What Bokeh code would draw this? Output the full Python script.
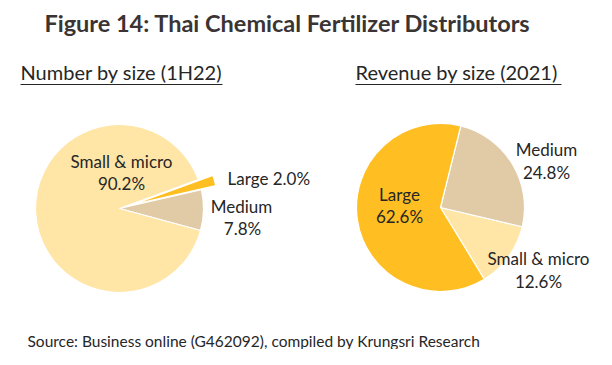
import math
from bokeh.plotting import figure
from bokeh.models import Range1d, ColumnDataSource
from bokeh.core.properties import value
from bokeh.embed import file_html
from bokeh.resources import INLINE

# ---- data ----
title_text = "Figure 14: Thai Chemical  Fertilizer Distributors"
left_title = "Number by size (1H22)"
right_title = "Revenue by size (2021)"
source_text = "Source: Business online (G462092), compiled by Krungsri  Research"

left_cats = ["Medium", "Large", "Small & micro"]
left_vals = [7.8, 2.0, 90.2]
right_cats = ["Small & micro", "Medium", "Large"]
right_vals = [12.6, 24.8, 62.6]

colors = {"Small & micro": "#FFE5A6", "Medium": "#E1CAA6", "Large": "#FFBF22"}
FONT = "Lato"
TXT = "#262626"

W, H = 596, 349
p = figure(width=W, height=H, output_backend="svg", toolbar_location=None,
           x_range=Range1d(0, W), y_range=Range1d(365 - H, 365),
           min_border=0)
p.axis.visible = False
p.grid.visible = False
p.outline_line_color = None
p.background_fill_color = "white"

Y = lambda py: 365 - py  # page pixel y -> data y


def pie(cx, cy, r, cats, vals, start_deg, explode=None):
    total = sum(vals)
    a = math.radians(start_deg)
    xs, ys, sa, ea, cs = [], [], [], [], []
    for c, v in zip(cats, vals):
        b = a + 2 * math.pi * v / total
        ox, oy = 0.0, 0.0
        if explode and c in explode:
            mid = (a + b) / 2
            ox = explode[c] * math.cos(mid)
            oy = explode[c] * math.sin(mid)
        xs.append(cx + ox); ys.append(cy + oy)
        sa.append(a); ea.append(b); cs.append(colors[c])
        a = b
    src = ColumnDataSource(dict(x=xs, y=ys, s=sa, e=ea, c=cs))
    p.wedge(x="x", y="y", radius=r, start_angle="s", end_angle="e",
            fill_color="c", line_color="white", line_width=1.2, source=src)


pie(119, Y(208), 84, left_cats, left_vals, -15.2, explode={"Large": 15})
pie(440, Y(207), 84, right_cats, right_vals, -58.6)


def txt(x, y, t, size="17px", style="normal", align="center", color=TXT, font=FONT):
    p.text(x=[x], y=[Y(y)], text=[t], text_font=value(font), text_font_size=size,
           text_font_style=style, text_align=align, text_baseline="middle",
           text_color=color)


# title
txt(290, 22, title_text, size="23.5px", style="bold", color="#3A3434")
# subtitles (underlined)
txt(20, 71, left_title, size="20px", align="left")
txt(355, 71, right_title, size="20px", align="left")
p.segment(x0=[20, 355], y0=[Y(84), Y(84)], x1=[222, 561], y1=[Y(84), Y(84)],
          line_color=TXT, line_width=1)

# left pie labels
txt(121, 161, "Small & micro")
txt(121, 183, "90.2%")
txt(227, 178, "Large 2.0%", align="left")
txt(241, 206, "Medium")
txt(242, 228, "7.8%")

# right pie labels
txt(546, 149, "Medium")
txt(546, 172, "24.8%")
txt(399, 194, "Large")
txt(399, 216, "62.6%")
txt(538, 258, "Small & micro")
txt(538, 281, "12.6%")

# source
txt(27, 340, source_text, size="15.5px", align="left")

open("out.html", "w").write(file_html(p, INLINE))
